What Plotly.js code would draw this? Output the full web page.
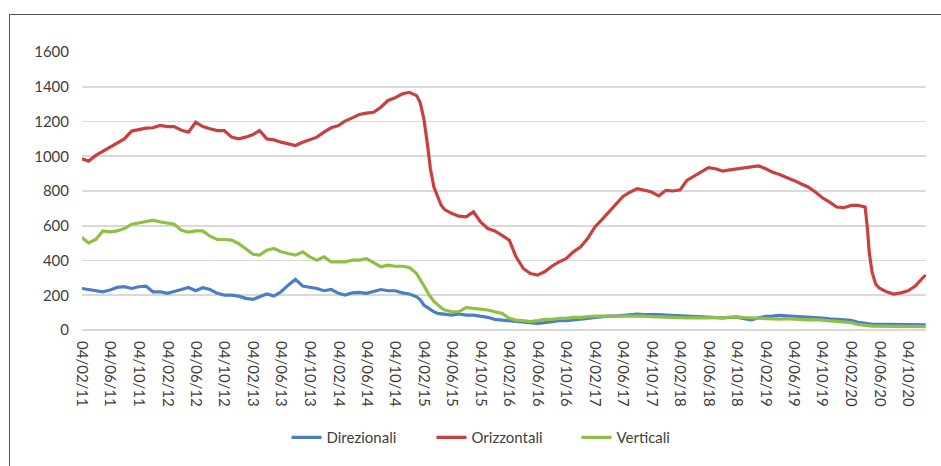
<!DOCTYPE html>
<html>
<head>
<meta charset="utf-8">
<script src="https://cdn.plot.ly/plotly-3.0.1.min.js"></script>
<style>
  html, body { margin: 0; padding: 0; background: #fff; }
  #wrap { position: relative; width: 941px; height: 466px; overflow: hidden; }
  #chart { width: 941px; height: 466px; }
  #frame { position: absolute; left: 9px; top: 14px; width: 960px; height: 480px;
           border-top: 1.5px solid #555; border-left: 1.5px solid #555; pointer-events: none; }
</style>
</head>
<body>
<div id="wrap">
  <div id="chart"></div>
  <div id="frame"></div>
</div>
<script>
const dates = [
  "2011-02-04","2011-03-04","2011-04-04","2011-05-04","2011-06-04","2011-07-04","2011-08-04","2011-09-04","2011-10-04","2011-11-04","2011-12-04",
  "2012-01-04","2012-02-04","2012-03-04","2012-04-04","2012-05-04","2012-06-04","2012-07-04","2012-08-04","2012-09-04","2012-10-04","2012-11-04","2012-12-04",
  "2013-01-04","2013-02-04","2013-03-04","2013-04-04","2013-05-04","2013-06-04","2013-07-04","2013-08-04","2013-09-04","2013-10-04","2013-11-04","2013-12-04",
  "2014-01-04","2014-02-04","2014-03-04","2014-04-04","2014-05-04","2014-06-04","2014-07-04","2014-08-04","2014-09-04","2014-10-04","2014-11-04","2014-12-04",
  "2015-01-04","2015-01-19","2015-02-04","2015-02-19","2015-03-04","2015-03-19","2015-04-04","2015-04-19","2015-05-04","2015-06-04","2015-07-04","2015-08-04","2015-09-04","2015-10-04","2015-11-04","2015-12-04",
  "2016-01-04","2016-02-04","2016-03-04","2016-04-04","2016-05-04","2016-06-04","2016-07-04","2016-08-04","2016-09-04","2016-10-04","2016-11-04","2016-12-04",
  "2017-01-04","2017-02-04","2017-03-04","2017-04-04","2017-05-04","2017-06-04","2017-07-04","2017-08-04","2017-09-04","2017-10-04","2017-11-04","2017-12-04",
  "2018-01-04","2018-02-04","2018-03-04","2018-04-04","2018-05-04","2018-06-04","2018-07-04","2018-08-04","2018-09-04","2018-10-04","2018-11-04","2018-12-04",
  "2019-01-04","2019-02-04","2019-03-04","2019-04-04","2019-05-04","2019-06-04","2019-07-04","2019-08-04","2019-09-04","2019-10-04","2019-11-04","2019-12-04",
  "2020-01-04","2020-02-04","2020-03-04","2020-04-04","2020-04-13","2020-04-22","2020-05-04","2020-05-19","2020-06-04","2020-07-04","2020-08-04","2020-09-04","2020-10-04","2020-11-04","2020-12-04","2020-12-19"
];

const orizzontali = [
  985,972,1005,1028,1053,1072,1100,1145,1152,1162,1164,
  1177,1171,1171,1150,1139,1196,1171,1158,1148,1148,1110,1100,
  1110,1125,1148,1100,1094,1081,1072,1062,1081,1094,1110,1139,
  1164,1177,1202,1221,1240,1248,1253,1282,1321,1336,1359,1368,
  1349,1311,1215,1072,928,823,766,718,693,670,655,651,680,622,584,570,
  545,517,421,354,325,316,335,367,392,411,450,478,
  526,593,632,679,727,769,794,813,804,794,772,804,
  800,807,861,884,909,934,928,915,922,928,934,938,
  945,928,909,895,880,861,842,823,794,761,736,708,
  704,717,717,708,593,440,330,265,240,220,207,214,226,253,297,316
];

const verticali = [
  532,501,521,570,565,570,584,609,616,622,632,
  622,616,609,574,563,570,570,540,521,521,517,498,
  469,436,431,459,469,450,440,431,450,421,402,421,
  392,392,392,402,402,411,387,364,373,367,367,360,
  325,290,249,220,191,165,144,128,115,105,105,130,124,119,115,105,
  96,67,57,54,48,54,61,61,67,67,73,73,
  77,80,80,80,84,80,84,84,80,77,75,73,
  75,72,70,70,68,70,72,70,74,76,72,70,
  68,66,64,62,65,62,60,58,60,56,52,48,
  45,42,32,26,25,24,22,22,22,20,20,21,22,20,19,19
];

const direzionali = [
  239,233,226,220,230,245,249,239,249,253,220,
  220,211,220,233,245,226,243,233,211,201,201,195,
  182,176,191,207,195,220,258,291,253,245,239,226,
  233,211,201,214,217,211,220,233,226,226,214,207,
  191,175,144,130,115,104,96,94,92,86,92,86,86,80,73,61,
  57,55,48,48,42,38,42,48,54,54,57,61,
  67,73,77,80,80,84,88,92,88,90,88,86,
  84,80,78,76,74,72,73,70,72,74,65,58,
  70,78,80,84,82,80,76,74,72,68,64,60,
  58,56,44,36,36,35,34,34,32,32,32,33,32,30,30,30
];

const tickDates = [
  "2011-02-04","2011-06-04","2011-10-04","2012-02-04","2012-06-04","2012-10-04",
  "2013-02-04","2013-06-04","2013-10-04","2014-02-04","2014-06-04","2014-10-04",
  "2015-02-04","2015-06-04","2015-10-04","2016-02-04","2016-06-04","2016-10-04",
  "2017-02-04","2017-06-04","2017-10-04","2018-02-04","2018-06-04","2018-10-04",
  "2019-02-04","2019-06-04","2019-10-04","2020-02-04","2020-06-04","2020-10-04"
];
const tickLabels = [
  "04/02/11","04/06/11","04/10/11","04/02/12","04/06/12","04/10/12",
  "04/02/13","04/06/13","04/10/13","04/02/14","04/06/14","04/10/14",
  "04/02/15","04/06/15","04/10/15","04/02/16","04/06/16","04/10/16",
  "04/02/17","04/06/17","04/10/17","04/02/18","04/06/18","04/10/18",
  "04/02/19","04/06/19","04/10/19","04/02/20","04/06/20","04/10/20"
];
const yTicks = [0, 200, 400, 600, 800, 1000, 1200, 1400, 1600];

const traces = [
  { x: dates, y: direzionali, name: "Direzionali", type: "scatter", mode: "lines",
    line: { color: "#4a7fc4", width: 3.2 } },
  { x: dates, y: orizzontali, name: "Orizzontali", type: "scatter", mode: "lines",
    line: { color: "#c8403f", width: 3.2 } },
  { x: dates, y: verticali, name: "Verticali", type: "scatter", mode: "lines",
    line: { color: "#8fc045", width: 3.2 } }
];

const layout = {
  width: 941, height: 466,
  margin: { l: 82, r: 15, t: 52, b: 136, pad: 0 },
  paper_bgcolor: "#ffffff", plot_bgcolor: "#ffffff",
  font: { family: "Lato, 'Open Sans', sans-serif", size: 15, color: "#404040" },
  showlegend: true,
  legend: { orientation: "h", x: 0.5, xanchor: "center", y: -0.387, yanchor: "middle",
            entrywidth: 100, entrywidthmode: "pixels",
            font: { size: 15, color: "#404040" }, bgcolor: "rgba(0,0,0,0)" },
  xaxis: {
    type: "date", range: ["2011-02-04", "2020-12-20"],
    tickmode: "array", tickvals: tickDates, ticktext: tickLabels,
    tickangle: 90, ticks: "", showgrid: false, zeroline: false, showline: false,
    ticklabelstandoff: 10, fixedrange: true
  },
  yaxis: {
    range: [0, 1600], tickmode: "array", tickvals: yTicks,
    showgrid: true, gridcolor: "#d9d9d9", gridwidth: 1.6,
    zeroline: true, zerolinecolor: "#d9d9d9", zerolinewidth: 1.6,
    showline: false, ticks: "", ticklabelstandoff: 12, fixedrange: true
  }
};

Plotly.newPlot("chart", traces, layout, { staticPlot: true, displayModeBar: false });
</script>
</body>
</html>
